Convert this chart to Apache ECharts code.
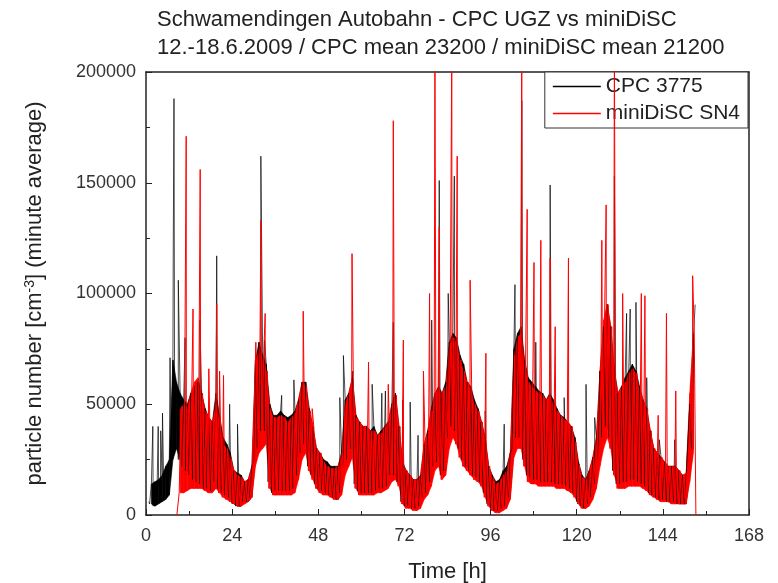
<!DOCTYPE html>
<html>
<head>
<meta charset="utf-8">
<script src="https://cdn.jsdelivr.net/npm/echarts@6/dist/echarts.min.js"></script>
<style>html,body{margin:0;padding:0;background:#fff}#c{width:778px;height:583px}</style>
</head>
<body>
<div id="c"></div>
<script>
// Values, in thousands of particles per cm^3.
// Hourly noise band (low / high) for each instrument.
const cpcStart = 1;   // first hour of CPC band arrays
const cpcLo = [5,4,5,6,7,9,25,30,25,22, 20,18,16,15,14,12,12,11,15,12, 10,9,8,5,4,4,6,6,8,25,
  30,38,38,15,10,11,11,11,11,11, 12,18,28,32,22,18,14,12,11,10, 9,8,7,10,22,25,30,14,11,10,
  10,10,10,11,12,12,13,18,18,15, 6,4,4,3,3,4,8,10,15,22, 24,18,20,35,40,38,30,25,22,20,
  18,17,15,10,5,3,2,2,3,4, 8,30,35,35,25,18,17,16,16,15, 15,15,15,14,14,14,13,12,10,6,
  4,3,5,8,14,25,35,40,35,20, 14,14,15,15,16,16,15,14,13,10, 9,8,7,7,6,6,6,5,5,5, 18,30];
const cpcHi = [14,15,16,18,22,25,70,60,55,52, 50,55,58,60,55,48,44,42,55,45, 35,32,28,20,19,18,15,16,22,70,
  78,72,68,50,45,45,47,45,44,45, 47,52,60,60,48,40,30,28,25,24, 22,22,22,28,52,55,62,45,42,40,
  40,38,40,36,38,40,42,50,55,40, 24,20,18,16,16,18,32,38,48,55, 58,55,60,78,82,80,72,68,60,58,
  52,48,42,35,22,18,15,16,20,22, 28,75,82,85,70,62,60,58,56,55, 52,55,52,48,45,44,42,40,35,24,
  18,16,20,26,35,65,85,95,85,65, 55,58,62,65,68,65,58,52,48,38, 30,28,26,24,22,22,22,20,18,18, 50,80];
const discStart = 9;  // first hour of miniDiSC band arrays
const discLo = [10,10, 11,12,12,12,12,11,10,10,12,10, 8,7,6,5,4,4,5,6,8,22,
  28,30,32,12,9,9,9,9,9,9, 10,16,25,28,20,16,12,10,9,9, 8,7,7,9,18,22,26,12,9,9,
  9,9,9,10,10,11,12,15,16,13, 5,3,3,2,2,3,7,9,13,20, 22,16,18,30,35,32,26,22,20,18,
  16,15,13,8,4,2,1,1,2,3, 7,26,30,30,22,15,14,14,13,13, 13,13,13,12,12,12,11,10,8,5,
  3,3,4,7,12,22,30,35,30,18, 12,12,12,13,13,13,13,12,11,9, 8,7,6,6,6,5,5,5,5,5, 15,28];
const discHi = [48,50, 48,55,60,62,55,47,44,42,50,42, 32,30,26,20,18,17,15,16,22,68,
  75,70,65,48,44,44,45,44,42,44, 46,52,60,58,47,40,30,28,24,22, 21,21,22,28,50,55,62,44,42,40,
  40,38,38,36,37,40,42,50,54,40, 23,20,18,16,16,18,32,38,47,55, 57,55,58,76,80,78,70,65,60,56,
  50,47,42,34,22,17,14,15,18,20, 28,72,80,82,68,60,58,56,55,54, 52,54,50,47,45,43,42,40,33,23,
  17,16,20,26,35,65,88,95,85,65, 55,58,60,64,66,64,56,52,48,38, 30,28,26,24,22,22,22,20,18,19, 55,82];
// Single-minute spikes and end points: [hour, value in thousands]
const cpcSpikes = [[0.8,6],[1.9,40],[3.4,40],[4.1,38],[4.6,46],[6.7,71],[7.6,122],[7.8,188],[9.0,106],[10.9,80],
  [15.0,88],[19.7,117],[23.3,50],[25.5,41],[32.0,162],[33.0,79],[37.8,54],[41.2,61],[54.0,53],[55.0,72],
  [57.6,65],[63.0,59],[65.7,55],[66.7,56],[68.9,87],[71.5,52],[73.6,51],[75.8,36],[79.6,88],[81.7,151],
  [84.2,100],[85.9,153],[88.5,66],[93.1,42],[94.5,47],[99.8,41],[102.8,104],[104.7,187],[108.6,78],[112.6,149],
  [116.5,53],[122.6,59],[125.0,44],[130.5,153],[133.9,91],[134.9,93],[136.5,96],[139.5,62],[143.0,34],[147.3,34],[153.0,95]];
const discSpikes = [[8.6,0],[11.2,171],[13.1,93],[15.1,156],[17.5,66],[19.7,95],[20.5,65],[21.6,63],[30.6,78],[32.0,133],
  [33.2,91],[43.8,92],[46.3,48],[57.4,118],[62.0,69],[67.5,59],[68.9,178],[71.7,79],[77.3,65],[79.0,100],
  [80.5,215],[81.7,130],[85.2,215],[86.7,162],[90.3,106],[94.7,73],[102.7,71],[104.7,215],[106.2,138],[108.1,114],
  [110.0,124],[112.6,116],[114.0,85],[117.7,116],[127.0,124],[128.2,140],[130.5,215],[132.8,100],[138.0,100],[139.0,99],
  [142.7,45],[145.0,91],[147.6,56],[152.3,108],[153.2,0]];
const xTicks = [0,24,48,72,96,120,144,168];
const yTicks = [0,50000,100000,150000,200000];

function build(start, lo, hi, offset, spikes) {
  const pts = [];
  for (let i = 0; i < lo.length; i++) {
    const h = start + i;
    pts.push([h + offset, lo[i] * 1000]);
    pts.push([h + offset + 0.5, hi[i] * 1000]);
  }
  spikes.forEach(p => pts.push([p[0], p[1] * 1000]));
  pts.sort((a, b) => a[0] - b[0]);
  return pts;
}
function bandSeries(name, start, lo, hi, color, z) {
  const data = lo.map((v, i) => [start + i + 0.5, v * 1000, hi[i] * 1000]);
  return {
    type: 'custom', name: name, silent: true, z: z, clip: true,
    encode: {x: 0, y: [1, 2]},
    data: data,
    renderItem: function (params, api) {
      const i = params.dataIndex;
      if (i >= data.length - 1) return null;
      const a = data[i], b = data[i + 1];
      const pts = [api.coord([a[0], a[1]]), api.coord([b[0], b[1]]),
                   api.coord([b[0], b[2]]), api.coord([a[0], a[2]])];
      return {type: 'polygon', shape: {points: pts},
              style: {fill: color, stroke: color, lineWidth: 0.6}};
    }
  };
}

const chart = echarts.init(document.getElementById('c'), null, {renderer: 'canvas'});
const axisCol = '#222';
const font = 'Liberation Sans, Arial, sans-serif';
chart.setOption({
  animation: false,
  backgroundColor: '#fff',
  textStyle: {fontFamily: font},
  title: {
    text: 'Schwamendingen Autobahn - CPC UGZ vs miniDiSC\n12.-18.6.2009 / CPC mean 23200 / miniDiSC mean 21200',
    left: 152, top: 1,
    textStyle: {fontSize: 22, fontWeight: 'normal', color: '#222', lineHeight: 28, fontFamily: font}
  },
  legend: {
    orient: 'vertical', right: 30, top: 72,
    icon: 'rect', itemWidth: 48, itemHeight: 1.5, itemGap: 6,
    padding: [4, 8, 4, 8],
    borderColor: '#333', borderWidth: 1, borderRadius: 0,
    backgroundColor: '#fff',
    textStyle: {fontSize: 21, color: '#222', fontFamily: font},
    data: ['CPC 3775', 'miniDiSC SN4']
  },
  grid: {left: 146, right: 29, top: 72, bottom: 68, containLabel: false, outerBoundsMode: 'none'},
  xAxis: [{
    type: 'value', min: xTicks[0], max: xTicks[xTicks.length - 1], interval: 24,
    name: 'Time [h]', nameLocation: 'middle', nameGap: 46,
    nameTextStyle: {fontSize: 22, color: '#222', fontFamily: font},
    axisLine: {lineStyle: {color: axisCol, width: 1.5}},
    axisTick: {inside: true, length: 6, lineStyle: {color: axisCol}},
    minorTick: {show: true, splitNumber: 2, length: 4, lineStyle: {color: axisCol}},
    axisLabel: {fontSize: 18, color: '#333', margin: 12, fontFamily: font},
    splitLine: {show: false}
  }, {
    type: 'value', position: 'top', min: 0, max: 168,
    axisLine: {show: true, onZero: false, lineStyle: {color: axisCol, width: 1.5}},
    axisTick: {show: false}, axisLabel: {show: false}, splitLine: {show: false}
  }],
  yAxis: [{
    type: 'value', min: yTicks[0], max: yTicks[yTicks.length - 1], interval: 50000,
    name: '{a|particle number [cm}{s|-3}{a|] (minute average)}',
    nameLocation: 'middle', nameGap: 99, nameRotate: 90,
    nameTextStyle: {
      fontSize: 22, color: '#222', fontFamily: font,
      rich: {
        a: {fontSize: 22, color: '#222', fontFamily: font},
        s: {fontSize: 14, color: '#222', fontFamily: font, verticalAlign: 'top', padding: [0, 0, 10, 0]}
      }
    },
    axisLine: {show: true, lineStyle: {color: axisCol, width: 1.5}},
    axisTick: {inside: true, length: 6, lineStyle: {color: axisCol}},
    minorTick: {show: true, splitNumber: 2, length: 4, lineStyle: {color: axisCol}},
    axisLabel: {fontSize: 18, color: '#333', margin: 10, fontFamily: font, formatter: v => String(v)},
    splitLine: {show: false}
  }, {
    type: 'value', position: 'right', min: 0, max: 200000,
    axisLine: {show: true, onZero: false, lineStyle: {color: axisCol, width: 1.5}},
    axisTick: {show: false}, axisLabel: {show: false}, splitLine: {show: false}
  }],
  series: [
    bandSeries('cpcBand', cpcStart, cpcLo, cpcHi, '#000', 1),
    bandSeries('discBand', discStart, discLo, discHi, '#ff0000', 2),
    {
      name: 'CPC 3775', type: 'line', symbol: 'none', showSymbol: false,
      sampling: false, clip: true, z: 3,
      lineStyle: {color: '#000', width: 0.7},
      itemStyle: {color: '#000'},
      data: build(cpcStart, cpcLo, cpcHi, 0, cpcSpikes)
    }, {
      name: 'miniDiSC SN4', type: 'line', symbol: 'none', showSymbol: false,
      sampling: false, clip: true, z: 4,
      lineStyle: {color: '#ff0000', width: 1},
      itemStyle: {color: '#ff0000'},
      data: build(discStart, discLo, discHi, 0.25, discSpikes)
    }
  ]
});
</script>
</body>
</html>
